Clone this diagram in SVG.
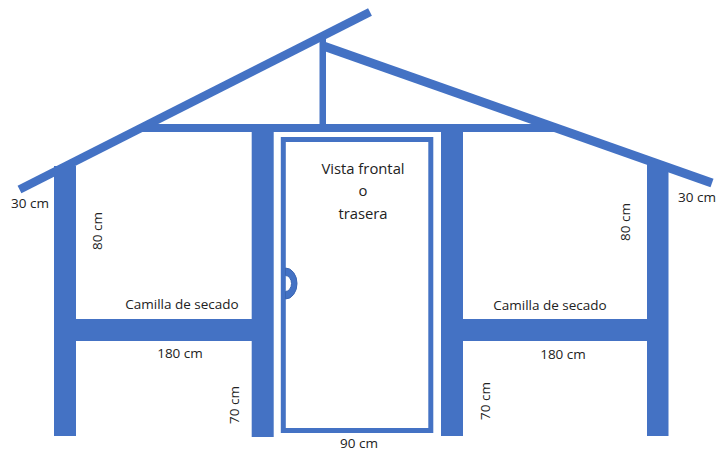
<svg xmlns="http://www.w3.org/2000/svg" width="717" height="450" viewBox="0 0 717 450">
<style>
.f{fill:#4472c4}
.s{stroke:#4472c4;fill:none}
text{font-family:"Open Sans","Noto Sans","Liberation Sans",sans-serif;font-size:13.5px;fill:#222;text-anchor:middle}
.b{font-size:14.8px}
</style>
<rect width="717" height="450" fill="#fff"/>
<g id="structure">
<path class="s" stroke-width="8.5" d="M19.5 189.5L370 12"/>
<path class="s" stroke-width="9" d="M322 45.5L712 183"/>
<rect class="f" x="319.5" y="38" width="6.5" height="88"/>
<rect class="f" x="142" y="124" width="414" height="8"/>
<rect class="f" x="54" y="166" width="22" height="270"/>
<rect class="f" x="251.7" y="128" width="22" height="309"/>
<rect class="f" x="441" y="128" width="22" height="308"/>
<rect class="f" x="647" y="163" width="21.5" height="273"/>
<rect class="f" x="76" y="319" width="176" height="22"/>
<rect class="f" x="463" y="319" width="184" height="22"/>
</g>
<g id="door">
<rect class="s" stroke-width="5" x="283.3" y="139.5" width="147.5" height="291"/>
<path class="f" stroke="#3a65b2" stroke-width="1" d="M285.5 268A11.5 15.5 0 0 1 285.5 299L285.5 291.5A6 8 0 0 0 285.5 275.5Z"/>
</g>
<g id="labels">
<text class="b" x="363" y="174">Vista frontal</text>
<text class="b" x="363" y="196">o</text>
<text class="b" x="363" y="219">trasera</text>
<text x="30" y="208">30 cm</text>
<text x="697" y="202">30 cm</text>
<text x="182" y="309">Camilla de secado</text>
<text x="550" y="310">Camilla de secado</text>
<text x="180" y="358">180 cm</text>
<text x="563" y="359">180 cm</text>
<text x="359" y="447.5">90 cm</text>
<text transform="translate(102 231) rotate(-90)">80 cm</text>
<text transform="translate(630 222) rotate(-90)">80 cm</text>
<text transform="translate(239 405) rotate(-90)">70 cm</text>
<text transform="translate(490 401) rotate(-90)">70 cm</text>
</g>
</svg>
